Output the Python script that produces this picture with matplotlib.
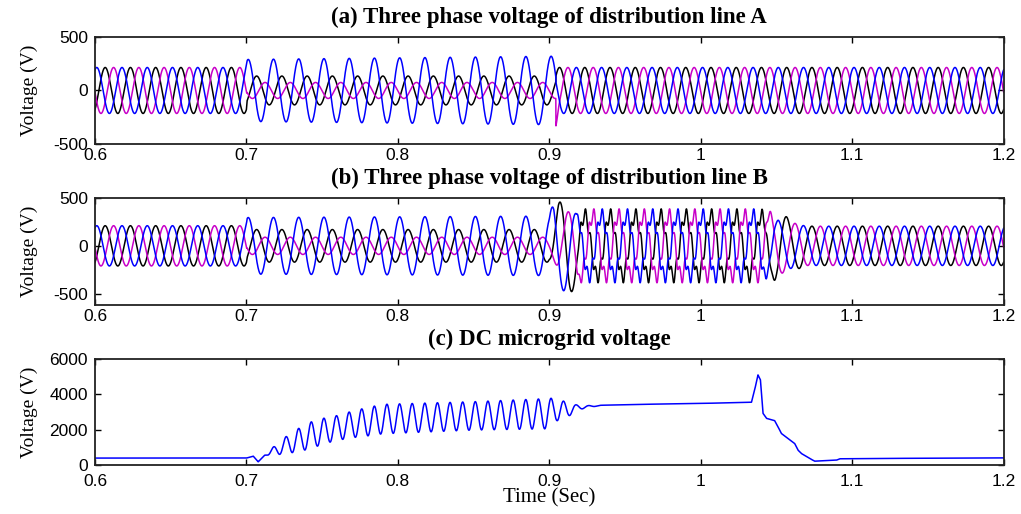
import matplotlib
matplotlib.use("Agg")
import matplotlib.pyplot as plt
import numpy as np

plt.rcParams["axes.unicode_minus"] = False

# simulation time axis (s)
t = np.linspace(0.6, 1.2, 12001)
f_grid = 60.0      # AC frequency (Hz)
f_ripple = 120.0   # DC ripple frequency (Hz)

# phase lag of the three phases (deg)
phase_blue = 26
phase_black = 146
phase_magenta = -94

# (a) line A: peak amplitude envelopes (V)
line_a_t = [0.6, 0.697, 0.7, 0.7005, 0.9, 0.9043, 0.9044, 0.9065, 1.2]
line_a_blue = [215, 215, 260, 290, 320, 320, 215, 215, 215]
line_a_black = [215, 215, 215, 135, 135, 135, 215, 215, 215]
line_a_magenta = [215, 215, 215, 75, 75, 75, 335, 215, 215]

# (b) line B: peak amplitude envelopes (V) and harmonic share
line_b_t = [0.6, 0.697, 0.7, 0.7005, 0.9, 0.903, 0.906, 0.912, 0.918, 0.921,
            1.040, 1.046, 1.052, 1.058, 1.070, 1.2]
line_b_blue = [210, 210, 255, 295, 310, 480, 480, 460, 330, 320,
               320, 300, 260, 240, 205, 205]
line_b_black = [210, 210, 210, 170, 170, 300, 440, 550, 400, 320,
                320, 330, 380, 280, 205, 205]
line_b_magenta = [210, 210, 210, 90, 90, 150, 250, 350, 420, 320,
                  320, 345, 300, 250, 205, 205]
line_b_harm = [0, 0, 0, 0, 0, 0, 0, 0, 0, 0.22,
               0.22, 0.05, 0, 0, 0, 0]

# (c) DC microgrid voltage: mean level and ripple amplitude (V)
dc_t = [0.6, 0.7, 0.7045, 0.7078, 0.712, 0.718, 0.726, 0.734, 0.743, 0.752, 0.76,
        0.77, 0.78, 0.79, 0.85, 0.898, 0.905, 0.912, 0.918, 0.925, 0.935, 0.96,
        1.0, 1.0335, 1.0356, 1.0378, 1.0394, 1.0411, 1.0434, 1.0488, 1.051,
        1.0532, 1.0566, 1.062, 1.0642, 1.0664, 1.0719, 1.0752, 1.0896, 1.0918,
        1.1182, 1.2]
dc_mean = [400, 400, 510, 190, 560, 800, 1130, 1400, 1700, 1950, 2100,
           2300, 2450, 2600, 2780, 2900, 3150, 3100, 3250, 3300, 3380, 3430,
           3480, 3550, 4245, 5090, 4810, 2925, 2640, 2510, 2170,
           1790, 1565, 1225, 850, 660, 380, 225, 283, 360,
           380, 410]
ripple_t = [0.708, 0.712, 0.718, 0.726, 0.734, 0.743, 0.752, 0.76, 0.77, 0.78,
            0.79, 0.85, 0.898, 0.905, 0.912, 0.918, 0.925, 0.935]
ripple_amp = [0, 0, 240, 470, 650, 750, 720, 700, 750, 800,
              830, 800, 850, 650, 400, 150, 60, 0]
ripple_peak = 0.7178

colors = {"blue": "#0000ff", "black": "#000000", "magenta": "#c800c8"}
serif = "Liberation Serif"
sans = "Liberation Sans"


def phase_wave(env_t, amp, deg, harm=None):
    theta = 2 * np.pi * f_grid * (t - 0.6) - np.deg2rad(deg)
    a = np.interp(t, env_t, amp)
    w = np.cos(theta)
    if harm is not None:
        h = np.interp(t, env_t, harm)
        w = w + h * np.sin(5 * theta + 0.6)
    return a * w


def style_axes(ax, yticks, ylim, title, xpad=3):
    ax.set_xlim(0.6, 1.2)
    ax.set_ylim(*ylim)
    ax.set_xticks([0.6, 0.7, 0.8, 0.9, 1.0, 1.1, 1.2])
    ax.set_xticklabels(["0.6", "0.7", "0.8", "0.9", "1", "1.1", "1.2"])
    ax.set_yticks(yticks)
    ax.tick_params(direction="in", top=True, right=True, length=4, width=1,
                   labelsize=12.5)
    ax.tick_params(axis="x", pad=xpad)
    ax.tick_params(axis="y", pad=5)
    for lab in ax.get_xticklabels() + ax.get_yticklabels():
        lab.set_family(sans)
    for s in ax.spines.values():
        s.set_linewidth(1.3)
        s.set_color("#222222")
    ax.set_ylabel("Voltage (V)", family=serif, fontsize=14)
    ax.yaxis.set_label_coords(-0.063, 0.5)
    ax.set_title(title, family=serif, fontweight="bold", fontsize=16.5, pad=10)


fig = plt.figure(figsize=(10.21, 5.14), dpi=100)
ax_a = fig.add_axes([0.093, 0.720, 0.890, 0.208])
ax_b = fig.add_axes([0.093, 0.407, 0.890, 0.208])
ax_c = fig.add_axes([0.093, 0.095, 0.890, 0.207])

# (a)
ax_a.plot(t, phase_wave(line_a_t, line_a_black, phase_black), color=colors["black"], lw=1.1)
ax_a.plot(t, phase_wave(line_a_t, line_a_magenta, phase_magenta), color=colors["magenta"], lw=1.1)
ax_a.plot(t, phase_wave(line_a_t, line_a_blue, phase_blue), color=colors["blue"], lw=1.1)
style_axes(ax_a, [-500, 0, 500], (-500, 500), "(a) Three phase voltage of distribution line A")

# (b)
ax_b.plot(t, phase_wave(line_b_t, line_b_black, phase_black, line_b_harm), color=colors["black"], lw=1.1)
ax_b.plot(t, phase_wave(line_b_t, line_b_magenta, phase_magenta, line_b_harm), color=colors["magenta"], lw=1.1)
ax_b.plot(t, phase_wave(line_b_t, line_b_blue, phase_blue, line_b_harm), color=colors["blue"], lw=1.1)
style_axes(ax_b, [-500, 0, 500], (-615, 500), "(b) Three phase voltage of distribution line B")

# (c)
dc = np.interp(t, dc_t, dc_mean) + np.interp(t, ripple_t, ripple_amp, left=0, right=0) * \
    np.cos(2 * np.pi * f_ripple * (t - ripple_peak))
ax_c.plot(t, dc, color=colors["blue"], lw=1.1)
style_axes(ax_c, [0, 2000, 4000, 6000], (0, 6000), "(c) DC microgrid voltage", xpad=6)
ax_c.set_xlabel("Time (Sec)", family=serif, fontsize=15, labelpad=0)

fig.savefig("out.png", dpi=100)
